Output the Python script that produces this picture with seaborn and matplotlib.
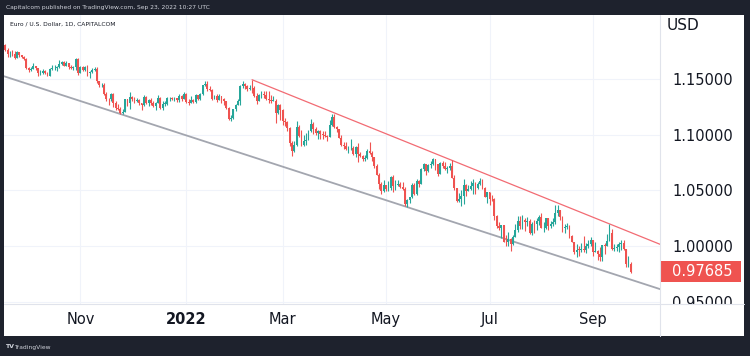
import numpy as np
import pandas as pd
import matplotlib
matplotlib.use("Agg")
import matplotlib.pyplot as plt
import matplotlib.transforms as mtransforms
from matplotlib.patches import Rectangle
from matplotlib.lines import Line2D
import seaborn as sns

# EUR/USD daily candles, 16 Sep 2021 -> 23 Sep 2022 (weekdays)
dates = pd.bdate_range("2021-09-16", "2022-09-23")

open_ = [
    # Sep 2021
    1.1808, 1.1765, 1.1725, 1.1727, 1.1725, 1.1690, 1.1740, 1.1720, 1.1695, 1.1683, 1.1597,
    # Oct
    1.1580, 1.1595, 1.1620, 1.1597, 1.1553, 1.1555, 1.1570, 1.1552, 1.1530, 1.1594, 1.1597,
    1.1601, 1.1607, 1.1634, 1.1655, 1.1622, 1.1644, 1.1609, 1.1598, 1.1605, 1.1681,
    # Nov
    1.1558, 1.1606, 1.1579, 1.1612, 1.1555, 1.1567, 1.1586, 1.1593, 1.1479, 1.1445, 1.1446,
    1.1368, 1.1320, 1.1319, 1.1370, 1.1289, 1.1238, 1.1234, 1.1198, 1.1208, 1.1318, 1.1290,
    # Dec
    1.1338, 1.1320, 1.1302, 1.1314, 1.1284, 1.1266, 1.1343, 1.1290, 1.1315, 1.1284, 1.1259,
    1.1289, 1.1330, 1.1240, 1.1281, 1.1281, 1.1328, 1.1330, 1.1320, 1.1327, 1.1310, 1.1350, 1.1322,
    # Jan 2022
    1.1370, 1.1298, 1.1287, 1.1311, 1.1297, 1.1360, 1.1325, 1.1366, 1.1443, 1.1455, 1.1410,
    1.1407, 1.1325, 1.1345, 1.1312, 1.1345, 1.1325, 1.1300, 1.1243, 1.1143, 1.1148,
    # Feb
    1.1234, 1.1271, 1.1306, 1.1440, 1.1453, 1.1440, 1.1415, 1.1423, 1.1420, 1.1349,
    1.1306, 1.1357, 1.1371, 1.1361, 1.1321, 1.1309, 1.1308, 1.1308, 1.1195, 1.1270,
    # Mar
    1.1219, 1.1124, 1.1119, 1.1065, 1.0930, 1.0855, 1.0904, 1.1074, 1.0985, 1.0911, 1.0941,
    1.0955, 1.1033, 1.1093, 1.1050, 1.1016, 1.1030, 1.1004, 1.0998, 1.0985, 1.0984, 1.1088, 1.1158,
    # Apr
    1.1067, 1.1048, 1.0972, 1.0904, 1.0902, 1.0876, 1.0878, 1.0885, 1.0829, 1.0891, 1.0826,
    1.0808, 1.0781, 1.0788, 1.0853, 1.0836, 1.0797, 1.0715, 1.0639, 1.0558, 1.0498,
    # May
    1.0545, 1.0508, 1.0523, 1.0620, 1.0540, 1.0549, 1.0560, 1.0530, 1.0515, 1.0380, 1.0413,
    1.0436, 1.0552, 1.0465, 1.0584, 1.0561, 1.0690, 1.0733, 1.0677, 1.0727, 1.0733, 1.0780,
    # Jun
    1.0733, 1.0648, 1.0750, 1.0720, 1.0696, 1.0703, 1.0716, 1.0615, 1.0518, 1.0408, 1.0422,
    1.0447, 1.0547, 1.0496, 1.0512, 1.0535, 1.0568, 1.0518, 1.0555, 1.0585, 1.0517, 1.0442,
    # Jul
    1.0484, 1.0425, 1.0424, 1.0266, 1.0182, 1.0161, 1.0184, 1.0040, 1.0037, 1.0063, 1.0018,
    1.0081, 1.0142, 1.0226, 1.0178, 1.0229, 1.0212, 1.0223, 1.0118, 1.0201, 1.0196,
    # Aug
    1.0225, 1.0262, 1.0163, 1.0163, 1.0247, 1.0183, 1.0196, 1.0213, 1.0298, 1.0320, 1.0259,
    1.0160, 1.0170, 1.0178, 1.0088, 1.0036, 0.9942, 0.9967, 0.9966, 0.9972, 0.9965, 1.0003, 1.0017,
    # Sep
    1.0055, 0.9944, 0.9955, 0.9930, 0.9900, 1.0006, 1.0001, 1.0044, 1.0121, 0.9970, 0.9980,
    0.9990, 1.0015, 1.0025, 0.9970, 0.9836, 0.9837,
]

high = [
    1.1817, 1.1779, 1.1752, 1.1766, 1.1751, 1.1750, 1.1746, 1.1720, 1.1709, 1.1689, 1.1608,
    1.1611, 1.1641, 1.1622, 1.1604, 1.1585, 1.1592, 1.1584, 1.1565, 1.1601, 1.1625, 1.1624,
    1.1620, 1.1669, 1.1666, 1.1667, 1.1665, 1.1645, 1.1625, 1.1620, 1.1692, 1.1693,
    1.1616, 1.1614, 1.1616, 1.1627, 1.1574, 1.1597, 1.1608, 1.1606, 1.1487, 1.1464, 1.1464,
    1.1386, 1.1330, 1.1374, 1.1374, 1.1300, 1.1275, 1.1252, 1.1231, 1.1325, 1.1320, 1.1383,
    1.1353, 1.1336, 1.1334, 1.1320, 1.1290, 1.1355, 1.1351, 1.1326, 1.1328, 1.1304, 1.1299,
    1.1360, 1.1342, 1.1303, 1.1302, 1.1342, 1.1343, 1.1340, 1.1336, 1.1333, 1.1368, 1.1361, 1.1386,
    1.1375, 1.1323, 1.1346, 1.1319, 1.1364, 1.1362, 1.1375, 1.1449, 1.1482, 1.1483, 1.1434,
    1.1416, 1.1361, 1.1369, 1.1363, 1.1349, 1.1328, 1.1308, 1.1248, 1.1174, 1.1236,
    1.1281, 1.1318, 1.1450, 1.1483, 1.1466, 1.1446, 1.1448, 1.1495, 1.1440, 1.1375,
    1.1368, 1.1395, 1.1394, 1.1394, 1.1395, 1.1362, 1.1345, 1.1318, 1.1273, 1.1276,
    1.1236, 1.1153, 1.1124, 1.1073, 1.0946, 1.0941, 1.1121, 1.1091, 1.1044, 1.0996, 1.1014,
    1.1045, 1.1138, 1.1116, 1.1070, 1.1047, 1.1040, 1.1037, 1.1032, 1.1000, 1.1137, 1.1185, 1.1183,
    1.1077, 1.1055, 1.0996, 1.0939, 1.0936, 1.0897, 1.0959, 1.0897, 1.0900, 1.0924, 1.0846,
    1.0820, 1.0820, 1.0868, 1.0936, 1.0854, 1.0798, 1.0740, 1.0652, 1.0572, 1.0593,
    1.0546, 1.0580, 1.0627, 1.0642, 1.0595, 1.0594, 1.0579, 1.0577, 1.0526, 1.0420, 1.0442,
    1.0564, 1.0566, 1.0605, 1.0597, 1.0697, 1.0749, 1.0737, 1.0735, 1.0765, 1.0787, 1.0782,
    1.0737, 1.0754, 1.0764, 1.0752, 1.0718, 1.0748, 1.0774, 1.0638, 1.0522, 1.0476, 1.0506,
    1.0601, 1.0556, 1.0547, 1.0583, 1.0605, 1.0576, 1.0573, 1.0615, 1.0606, 1.0530, 1.0487,
    1.0486, 1.0462, 1.0428, 1.0275, 1.0215, 1.0188, 1.0186, 1.0097, 1.0122, 1.0068, 1.0096,
    1.0200, 1.0269, 1.0273, 1.0278, 1.0254, 1.0257, 1.0238, 1.0215, 1.0234, 1.0254,
    1.0275, 1.0294, 1.0214, 1.0254, 1.0253, 1.0222, 1.0249, 1.0368, 1.0364, 1.0327, 1.0265,
    1.0197, 1.0202, 1.0192, 1.0097, 1.0039, 1.0018, 0.9999, 1.0030, 1.0090, 1.0027, 1.0055, 1.0080,
    1.0056, 1.0034, 0.9960, 0.9990, 1.0011, 1.0030, 1.0112, 1.0198, 1.0154, 1.0019, 1.0017,
    1.0037, 1.0050, 1.0051, 0.9976, 0.9907, 0.9852,
]

low = [
    1.1752, 1.1700, 1.1700, 1.1712, 1.1684, 1.1686, 1.1701, 1.1686, 1.1668, 1.1592, 1.1563,
    1.1572, 1.1590, 1.1580, 1.1529, 1.1540, 1.1548, 1.1545, 1.1524, 1.1524, 1.1583, 1.1584,
    1.1571, 1.1600, 1.1624, 1.1618, 1.1618, 1.1589, 1.1587, 1.1584, 1.1580, 1.1535,
    1.1558, 1.1570, 1.1572, 1.1530, 1.1514, 1.1557, 1.1576, 1.1468, 1.1432, 1.1433, 1.1362,
    1.1307, 1.1264, 1.1308, 1.1250, 1.1227, 1.1226, 1.1186, 1.1190, 1.1204, 1.1258, 1.1235,
    1.1307, 1.1284, 1.1291, 1.1271, 1.1227, 1.1263, 1.1275, 1.1262, 1.1264, 1.1252, 1.1222,
    1.1284, 1.1235, 1.1222, 1.1261, 1.1269, 1.1302, 1.1310, 1.1303, 1.1294, 1.1292, 1.1300, 1.1320,
    1.1284, 1.1272, 1.1286, 1.1285, 1.1289, 1.1314, 1.1311, 1.1355, 1.1438, 1.1398, 1.1394,
    1.1314, 1.1318, 1.1297, 1.1309, 1.1288, 1.1264, 1.1236, 1.1136, 1.1121, 1.1140,
    1.1210, 1.1267, 1.1270, 1.1421, 1.1410, 1.1392, 1.1401, 1.1374, 1.1339, 1.1281,
    1.1300, 1.1332, 1.1333, 1.1313, 1.1286, 1.1288, 1.1300, 1.1106, 1.1183, 1.1135,
    1.1090, 1.1075, 1.1038, 1.0900, 1.0806, 1.0849, 1.0900, 1.0982, 1.0902, 1.0902, 1.0904,
    1.0952, 1.1021, 1.1008, 1.0997, 1.0962, 1.0962, 1.0964, 1.0979, 1.0945, 1.0980, 1.1075, 1.1065,
    1.1028, 1.0969, 1.0902, 1.0870, 1.0867, 1.0836, 1.0860, 1.0820, 1.0800, 1.0758, 1.0803,
    1.0762, 1.0760, 1.0783, 1.0826, 1.0768, 1.0697, 1.0635, 1.0515, 1.0471, 1.0488,
    1.0490, 1.0493, 1.0505, 1.0483, 1.0504, 1.0535, 1.0518, 1.0506, 1.0355, 1.0349, 1.0390,
    1.0430, 1.0460, 1.0460, 1.0530, 1.0555, 1.0674, 1.0641, 1.0662, 1.0701, 1.0732, 1.0681,
    1.0627, 1.0643, 1.0703, 1.0683, 1.0653, 1.0685, 1.0612, 1.0506, 1.0397, 1.0398, 1.0359,
    1.0381, 1.0445, 1.0491, 1.0503, 1.0470, 1.0469, 1.0512, 1.0548, 1.0511, 1.0436, 1.0382,
    1.0366, 1.0407, 1.0235, 1.0162, 1.0144, 1.0072, 1.0032, 1.0001, 0.9998, 0.9952, 1.0007,
    1.0080, 1.0124, 1.0154, 1.0153, 1.0130, 1.0181, 1.0111, 1.0098, 1.0113, 1.0146,
    1.0190, 1.0159, 1.0123, 1.0150, 1.0141, 1.0158, 1.0180, 1.0201, 1.0271, 1.0236, 1.0123,
    1.0121, 1.0151, 1.0075, 1.0033, 0.9926, 0.9901, 0.9910, 0.9948, 0.9947, 0.9936, 0.9982, 0.9998,
    0.9910, 0.9944, 0.9876, 0.9865, 0.9863, 0.9929, 1.0001, 1.0044, 0.9966, 0.9955, 0.9955,
    0.9947, 0.9966, 0.9966, 0.9810, 0.9807, 0.9755,
]

close = [
    1.1765, 1.1725, 1.1727, 1.1725, 1.1690, 1.1740, 1.1720, 1.1695, 1.1683, 1.1597, 1.1580,
    1.1595, 1.1620, 1.1597, 1.1553, 1.1555, 1.1570, 1.1552, 1.1530, 1.1594, 1.1597, 1.1601,
    1.1607, 1.1634, 1.1655, 1.1622, 1.1644, 1.1609, 1.1598, 1.1605, 1.1681, 1.1558,
    1.1606, 1.1579, 1.1612, 1.1555, 1.1567, 1.1586, 1.1593, 1.1479, 1.1445, 1.1446, 1.1368,
    1.1320, 1.1319, 1.1370, 1.1289, 1.1238, 1.1234, 1.1198, 1.1208, 1.1318, 1.1290, 1.1338,
    1.1320, 1.1302, 1.1314, 1.1284, 1.1266, 1.1343, 1.1290, 1.1315, 1.1284, 1.1259, 1.1289,
    1.1330, 1.1240, 1.1281, 1.1281, 1.1328, 1.1330, 1.1320, 1.1327, 1.1310, 1.1350, 1.1322, 1.1370,
    1.1298, 1.1287, 1.1311, 1.1297, 1.1360, 1.1325, 1.1366, 1.1443, 1.1455, 1.1410, 1.1407,
    1.1325, 1.1345, 1.1312, 1.1345, 1.1325, 1.1300, 1.1243, 1.1143, 1.1148, 1.1234,
    1.1271, 1.1306, 1.1440, 1.1453, 1.1440, 1.1415, 1.1423, 1.1420, 1.1349, 1.1306,
    1.1357, 1.1371, 1.1361, 1.1321, 1.1309, 1.1308, 1.1308, 1.1195, 1.1270, 1.1219,
    1.1124, 1.1119, 1.1065, 1.0930, 1.0855, 1.0904, 1.1074, 1.0985, 1.0911, 1.0941, 1.0955,
    1.1033, 1.1093, 1.1050, 1.1016, 1.1030, 1.1004, 1.0998, 1.0985, 1.0984, 1.1088, 1.1158, 1.1067,
    1.1048, 1.0972, 1.0904, 1.0902, 1.0876, 1.0878, 1.0885, 1.0829, 1.0891, 1.0826, 1.0808,
    1.0781, 1.0788, 1.0853, 1.0836, 1.0797, 1.0715, 1.0639, 1.0558, 1.0498, 1.0545,
    1.0508, 1.0523, 1.0620, 1.0540, 1.0549, 1.0560, 1.0530, 1.0515, 1.0380, 1.0413, 1.0436,
    1.0552, 1.0465, 1.0584, 1.0561, 1.0690, 1.0733, 1.0677, 1.0727, 1.0733, 1.0780, 1.0733,
    1.0648, 1.0750, 1.0720, 1.0696, 1.0703, 1.0716, 1.0615, 1.0518, 1.0408, 1.0422, 1.0447,
    1.0547, 1.0496, 1.0512, 1.0535, 1.0568, 1.0518, 1.0555, 1.0585, 1.0517, 1.0442, 1.0484,
    1.0425, 1.0424, 1.0266, 1.0182, 1.0161, 1.0184, 1.0040, 1.0037, 1.0063, 1.0018, 1.0081,
    1.0142, 1.0226, 1.0178, 1.0229, 1.0212, 1.0223, 1.0118, 1.0201, 1.0196, 1.0225,
    1.0262, 1.0163, 1.0163, 1.0247, 1.0183, 1.0196, 1.0213, 1.0298, 1.0320, 1.0259, 1.0160,
    1.0170, 1.0178, 1.0088, 1.0036, 0.9942, 0.9967, 0.9966, 0.9972, 0.9965, 1.0003, 1.0017, 1.0055,
    0.9944, 0.9955, 0.9930, 0.9900, 1.0006, 1.0001, 1.0044, 1.0121, 0.9970, 0.9980, 0.9990,
    1.0015, 1.0025, 0.9970, 0.9836, 0.9837, 0.97685,
]

# channel drawn on the chart: (bar index, price) anchors
upper_idx = [105, 290]
upper_px = [1.1495, 0.9917]
lower_idx = [-5, 290]
lower_px = [1.1557, 0.9533]

month_dates = ["2021-11-01", "2022-01-03", "2022-03-01", "2022-05-02", "2022-07-01", "2022-09-01"]
month_labels = ["Nov", "2022", "Mar", "May", "Jul", "Sep"]
price_ticks = [0.95, 1.00, 1.05, 1.10, 1.15]

df = pd.DataFrame({"date": dates, "open": open_, "high": high, "low": low, "close": close})
df["i"] = np.arange(len(df))

sns.set_style("white")
plt.rcParams["font.family"] = ["DejaVu Sans"]

BG = "#1e222d"
UP = "#26a69a"
DOWN = "#ef5350"
TXT = "#131722"
W, H = 750, 356

fig = plt.figure(figsize=(7.5, 3.56), dpi=100, facecolor=BG)
panel = Rectangle((4 / W, 20 / H), 740 / W, 321 / H, transform=fig.transFigure,
                  facecolor="white", edgecolor="none", zorder=-10)
fig.add_artist(panel)

ax = fig.add_axes([4 / W, 52 / H, 656 / W, 289 / H])
ax.set_zorder(1)
ax.set_facecolor("white")

colors = np.where(df["close"] >= df["open"], UP, DOWN)
ax.vlines(df["i"], df["low"], df["high"], colors=colors, lw=0.8, zorder=3)
body_bot = np.minimum(df["open"], df["close"])
body_h = np.maximum((df["close"] - df["open"]).abs(), 0.00025)
ax.bar(df["i"], body_h, bottom=body_bot, width=0.78, color=colors, linewidth=0, zorder=4)

sns.lineplot(x=upper_idx, y=upper_px, ax=ax, color="#f26b73", lw=0.9, zorder=2)
sns.lineplot(x=lower_idx, y=lower_px, ax=ax, color="#a3a6af", lw=1.3, zorder=2)

ax.set_xlim(-0.5, 278.5)
ax.set_ylim(0.9478, 1.2077)

xt = [dates.get_loc(pd.Timestamp(d)) for d in month_dates]
ax.set_xticks(xt)
ax.set_xticklabels(month_labels)
for t in ax.get_xticklabels():
    if t.get_text() == "2022":
        t.set_fontweight("bold")
ax.set_yticks(price_ticks)
ax.set_yticklabels([f"{v:.5f}" for v in price_ticks])
ax.yaxis.tick_right()
ax.tick_params(axis="both", length=0, labelsize=10.5, colors=TXT)
ax.tick_params(axis="y", pad=8.6)
ax.tick_params(axis="x", pad=6)
ax.grid(True, color="#f0f3fa", lw=0.8)
ax.set_axisbelow(True)
for s in ax.spines.values():
    s.set_visible(False)
ax.set_xlabel("")
ax.set_ylabel("")

# price-scale labels are cut off at the time-axis border
scale_box = mtransforms.TransformedBbox(
    mtransforms.Bbox([[660 / W, 52 / H], [744 / W, 341 / H]]), fig.transFigure)
for t in ax.get_yticklabels():
    t.set_clip_box(scale_box)
    t.set_clip_on(True)

# axis separators
fig.add_artist(Line2D([660 / W, 660 / W], [20 / H, 341 / H], color="#e0e3eb", lw=0.8, zorder=2))
fig.add_artist(Line2D([4 / W, 744 / W], [52 / H, 52 / H], color="#e0e3eb", lw=0.8, zorder=2))

# last price badge
last = close[-1]
trans = mtransforms.blended_transform_factory(ax.transAxes, ax.transData)
ax.add_patch(Rectangle((1.0, last - 0.0095), 81 / 656, 0.019, transform=trans,
                       facecolor=DOWN, edgecolor="none", clip_on=False, zorder=5))
ax.text(1 + 12 / 656, last, f"{last:.5f}", transform=trans, color="white",
        fontsize=10.5, va="center", ha="left", zorder=6)

fig.text(667 / W, 1 - 26 / H, "USD", fontsize=11, color=TXT, va="center", ha="left")
fig.text(10 / W, 1 - 24 / H, "Euro / U.S. Dollar, 1D, CAPITALCOM", fontsize=4.3,
         color=TXT, va="center", ha="left", zorder=3)
fig.text(6 / W, 1 - 8 / H, "Capitalcom published on TradingView.com, Sep 23, 2022 10:27 UTC",
         fontsize=4.3, color="#d1d4dc", va="center", ha="left")
fig.text(5 / W, 1 - 347 / H, "TV", fontsize=4.5, fontweight="bold", color="#d1d4dc",
         va="center", ha="left")
fig.text(14 / W, 1 - 347 / H, "TradingView", fontsize=4.3, color="#d1d4dc",
         va="center", ha="left")

fig.savefig("out.png", dpi=100, facecolor=BG)
